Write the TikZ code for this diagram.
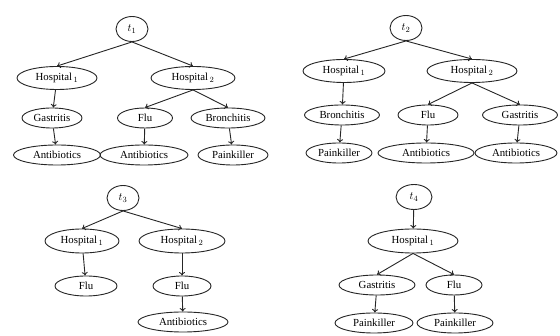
\documentclass[tikz,border=0pt]{standalone}
\usepackage{fontspec}
\setmainfont{Liberation Serif}
\usetikzlibrary{shapes.geometric,arrows.meta}
\begin{document}
\begin{tikzpicture}[x=1pt,y=-1pt,
  every node/.style={font=\fontsize{10.8}{12}\selectfont},
  st/.style={ellipse,draw=black!85,line width=0.9pt,inner sep=0pt,minimum height=20pt},
  rootnode/.style={ellipse,draw=black!85,line width=0.9pt,inner sep=0pt,minimum width=32pt,minimum height=25pt},
  link/.style={draw=black!85,line width=0.9pt,-{To[length=3.5pt,width=6pt]}}]
\useasboundingbox (0,0) rectangle (560,336);
\fill[white] (0,0) rectangle (560,336);
% tree t1
\node[rootnode] (a0) at (132,29) {$t_1$};
\node[st,minimum width=80pt,minimum height=23pt] (a1) at (57,78) {Hospital$_{\,1}$};
\node[st,minimum width=84pt,minimum height=23pt] (a2) at (193,78) {Hospital$_{\,2}$};
\node[st,minimum width=60pt] (a3) at (52,118) {Gastritis};
\node[st,minimum width=55pt] (a4) at (145,118) {Flu};
\node[st,minimum width=74pt] (a5) at (228,118) {Bronchitis};
\node[st,minimum width=87pt] (a6) at (57,155) {Antibiotics};
\node[st,minimum width=88pt] (a7) at (144,155) {Antibiotics};
\node[st,minimum width=70pt] (a8) at (233,155) {Painkiller};
\draw[link] (a0.south) -- (a1.north);
\draw[link] (a0.south) -- (a2.north);
\draw[link] (a1) -- (a3);
\draw[link] (a2.south) -- (a4.north);
\draw[link] (a2.south) -- (a5.north);
\draw[link] (a3) -- (a6);
\draw[link] (a4) -- (a7);
\draw[link] (a5) -- (a8);
% tree t2
\node[rootnode] (b0) at (406,28) {$t_2$};
\node[st,minimum width=82pt,minimum height=23pt] (b1) at (344,71) {Hospital$_{\,1}$};
\node[st,minimum width=90pt,minimum height=23pt] (b2) at (472,71) {Hospital$_{\,2}$};
\node[st,minimum width=75pt] (b3) at (342,115) {Bronchitis};
\node[st,minimum width=60pt] (b4) at (428,115) {Flu};
\node[st,minimum width=75pt] (b5) at (520,115) {Gastritis};
\node[st,minimum width=66pt] (b6) at (339,153) {Painkiller};
\node[st,minimum width=96pt] (b7) at (426,153) {Antibiotics};
\node[st,minimum width=82pt] (b8) at (516,153) {Antibiotics};
\draw[link] (b0.south) -- (b1.north);
\draw[link] (b0.south) -- (b2.north);
\draw[link] (b1) -- (b3);
\draw[link] (b2.south) -- (b4.north);
\draw[link] (b2.south) -- (b5.north);
\draw[link] (b3) -- (b6);
\draw[link] (b4) -- (b7);
\draw[link] (b5) -- (b8);
% tree t3
\node[rootnode] (c0) at (123,198) {$t_3$};
\node[st,minimum width=74pt,minimum height=24pt] (c1) at (82,241) {Hospital$_{\,1}$};
\node[st,minimum width=86pt,minimum height=24pt] (c2) at (182,241) {Hospital$_{\,2}$};
\node[st,minimum width=62pt] (c3) at (86,286) {Flu};
\node[st,minimum width=58pt] (c4) at (182,286) {Flu};
\node[st,minimum width=90pt] (c5) at (183,322) {Antibiotics};
\draw[link] (c0.south) -- (c1.north);
\draw[link] (c0.south) -- (c2.north);
\draw[link] (c1) -- (c3);
\draw[link] (c2) -- (c4);
\draw[link] (c4) -- (c5);
% tree t4
\node[rootnode,minimum width=36pt] (d0) at (414,197) {$t_4$};
\node[st,minimum width=90pt,minimum height=24pt] (d1) at (413,241) {Hospital$_{\,1}$};
\node[st,minimum width=76pt] (d2) at (377,285) {Gastritis};
\node[st,minimum width=56pt] (d3) at (454,285) {Flu};
\node[st,minimum width=78pt] (d4) at (374,323) {Painkiller};
\node[st,minimum width=76pt] (d5) at (455,323) {Painkiller};
\draw[link] (d0) -- (d1);
\draw[link] (d1.south) -- (d2.north);
\draw[link] (d1.south) -- (d3.north);
\draw[link] (d2) -- (d4);
\draw[link] (d3) -- (d5);
\end{tikzpicture}
\end{document}
